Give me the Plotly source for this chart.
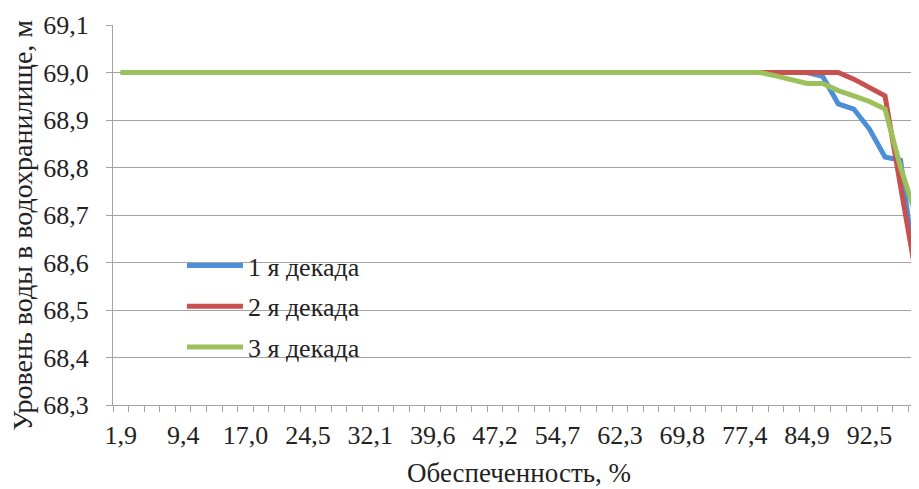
import plotly.graph_objects as go

# Обеспеченность, % (52 значения, шаг ~1,89 %)
obesp = ["1,9", "3,8", "5,7", "7,5", "9,4", "11,3", "13,2", "15,1", "17,0", "18,9",
         "20,8", "22,6", "24,5", "26,4", "28,3", "30,2", "32,1", "34,0", "35,8", "37,7",
         "39,6", "41,5", "43,4", "45,3", "47,2", "49,1", "50,9", "52,8", "54,7", "56,6",
         "58,5", "60,4", "62,3", "64,2", "66,0", "67,9", "69,8", "71,7", "73,6", "75,5",
         "77,4", "79,2", "81,1", "83,0", "84,9", "86,8", "88,7", "90,6", "92,5", "94,3",
         "96,2", "98,1"]

dekada1 = [69.0] * 45 + [68.992, 68.934, 68.923, 68.881, 68.822, 68.815, 68.563]
dekada2 = [69.0] * 47 + [68.986, 68.969, 68.951, 68.76, 68.572]
dekada3 = [69.0] * 42 + [68.993, 68.984, 68.977, 68.977, 68.962, 68.951, 68.939,
                         68.923, 68.80, 68.697]

series = [
    ("1 я декада", dekada1, "#4a8fd8"),
    ("2 я декада", dekada2, "#c8504f"),
    ("3 я декада", dekada3, "#9cc05a"),
]

y_ticks = [68.3, 68.4, 68.5, 68.6, 68.7, 68.8, 68.9, 69.0, 69.1]
x_idx = list(range(len(obesp)))

FONT = "Liberation Serif, Times New Roman, serif"
GRID = "#a3a3a3"
TXT = "#222222"

fig = go.Figure()
for name, vals, color in series:
    fig.add_trace(go.Scatter(
        x=x_idx, y=vals, mode="lines", name=name, legendgroup=name,
        line=dict(color=color, width=5),
    ))

# the page body adds an 8px offset, so margins are shifted by 8px
fig.update_layout(
    width=919, height=489,
    margin=dict(l=105, r=3, t=17, b=92),
    paper_bgcolor="white", plot_bgcolor="white",
    font=dict(family=FONT, size=26, color=TXT),
    showlegend=True,
    legend=dict(
        x=0.085, y=0.429, xanchor="left", yanchor="top",
        bgcolor="rgba(0,0,0,0)", font=dict(size=26, color=TXT),
        tracegroupgap=4, itemwidth=56,
    ),
    xaxis=dict(
        range=[-0.5, 51.5], automargin=False,
        tickvals=x_idx[::4], ticktext=obesp[::4],
        ticks="", showgrid=False, zeroline=False,
        showline=True, linecolor=GRID, linewidth=1,
        minor=dict(tick0=0.5, dtick=1, ticks="outside", ticklen=6,
                   tickcolor=GRID, showgrid=False),
        ticklabelstandoff=7,
        tickfont=dict(size=26),
    ),
    yaxis=dict(
        range=[68.3, 69.1], tickvals=y_ticks, automargin=False,
        ticktext=[f"{v:.1f}".replace(".", ",") for v in y_ticks],
        showgrid=True, gridcolor=GRID, gridwidth=1, zeroline=False,
        showline=True, linecolor=GRID, linewidth=1,
        ticks="outside", ticklen=6, tickcolor=GRID,
        ticklabelstandoff=12,
        tickfont=dict(size=26),
    ),
)

fig.add_annotation(
    text="Уровень воды в водохранилище, м", xref="paper", yref="paper",
    x=-0.111, y=0.474, xanchor="center", yanchor="middle", textangle=-90,
    showarrow=False, font=dict(size=28, color=TXT),
)
fig.add_annotation(
    text="Обеспеченность, %", xref="paper", yref="paper",
    x=0.5, y=-0.18, xanchor="center", yanchor="middle",
    showarrow=False, font=dict(size=27, color=TXT),
)

fig.write_html("out.html")
